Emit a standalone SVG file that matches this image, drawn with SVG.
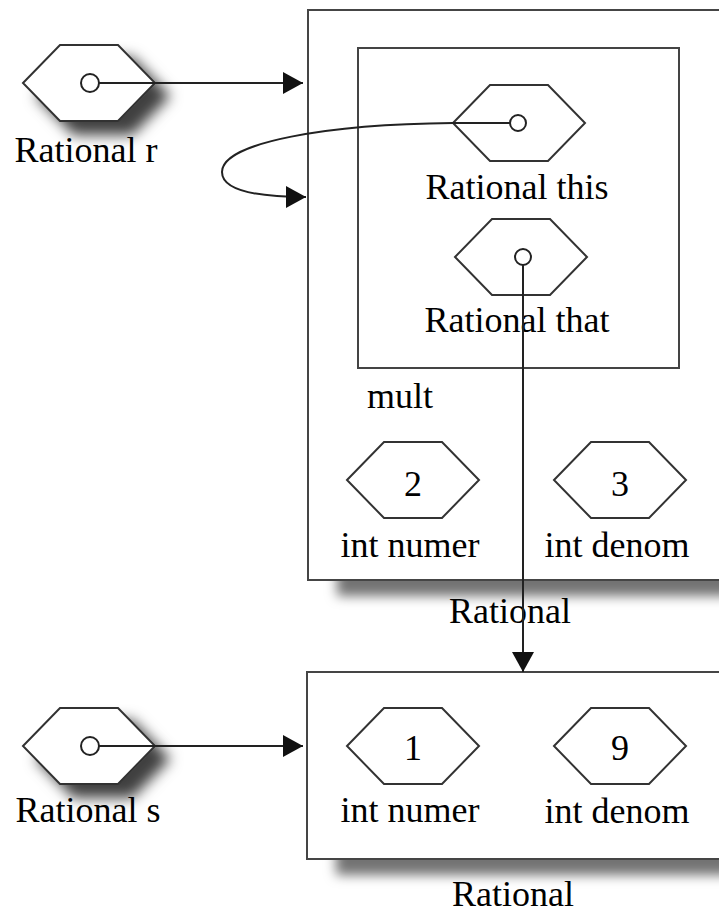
<svg xmlns="http://www.w3.org/2000/svg" width="719" height="913" viewBox="0 0 719 913">
<style>
.box{fill:#fff;stroke:#444;stroke-width:2}
.hex{fill:#fff;stroke:#333;stroke-width:2}
.dot{fill:#fff;stroke:#222;stroke-width:2}
.con{fill:none;stroke:#222;stroke-width:2}
</style>
<defs>
<filter id="shHex" x="-40%" y="-40%" width="200%" height="200%">
<feGaussianBlur in="SourceAlpha" stdDeviation="7"/>
<feOffset dx="14" dy="13" result="b"/>
<feFlood flood-color="#000" flood-opacity="0.75"/>
<feComposite in2="b" operator="in"/>
<feMerge><feMergeNode/><feMergeNode in="SourceGraphic"/></feMerge>
</filter>
<filter id="shBox" x="-10%" y="-10%" width="130%" height="130%">
<feGaussianBlur in="SourceAlpha" stdDeviation="6"/>
<feOffset dx="30" dy="15" result="b"/>
<feFlood flood-color="#000" flood-opacity="0.55"/>
<feComposite in2="b" operator="in"/>
<feMerge><feMergeNode/><feMergeNode in="SourceGraphic"/></feMerge>
</filter>
<marker id="ah" markerUnits="userSpaceOnUse" markerWidth="22" markerHeight="24" refX="20" refY="11" orient="auto">
<path d="M0,0 L20,11 L0,22 z" fill="#111"/>
</marker>
</defs>

<g id="rational-top">
<rect class="box" x="308" y="10" width="440" height="570" filter="url(#shBox)"/>
<text x="510" y="623" font-family="Liberation Serif" font-size="36" text-anchor="middle">Rational</text>
</g>
<g id="mult">
<rect class="box" x="358" y="48" width="321" height="320"/>
<text x="400" y="408" font-family="Liberation Serif" font-size="36" text-anchor="middle">mult</text>
</g>
<g id="this">
<polygon class="hex" points="453,123 490,85 548,85 585,123 548,161 490,161"/>
<circle class="dot" cx="518" cy="123" r="8"/>
<text x="517" y="199" font-family="Liberation Serif" font-size="36" text-anchor="middle">Rational this</text>
</g>
<g id="that">
<polygon class="hex" points="455,257 492,219 550,219 587,257 550,295 492,295"/>
<circle class="dot" cx="523" cy="257" r="8"/>
<text x="517" y="332" font-family="Liberation Serif" font-size="36" text-anchor="middle">Rational that</text>
</g>
<g id="numer-top">
<polygon class="hex" points="347,480 384,442 442,442 479,480 442,518 384,518"/>
<text x="413" y="496" font-family="Liberation Serif" font-size="36" text-anchor="middle">2</text>
<text x="410" y="557" font-family="Liberation Serif" font-size="36" text-anchor="middle">int numer</text>
</g>
<g id="denom-top">
<polygon class="hex" points="554,480 591,442 649,442 686,480 649,518 591,518"/>
<text x="620" y="496" font-family="Liberation Serif" font-size="36" text-anchor="middle">3</text>
<text x="617" y="557" font-family="Liberation Serif" font-size="36" text-anchor="middle">int denom</text>
</g>

<g id="rational-bottom">
<rect class="box" x="307" y="672" width="440" height="187" filter="url(#shBox)"/>
<text x="513" y="906" font-family="Liberation Serif" font-size="36" text-anchor="middle">Rational</text>
</g>
<g id="numer-bottom">
<polygon class="hex" points="347,746 384,708 442,708 479,746 442,784 384,784"/>
<text x="413" y="760" font-family="Liberation Serif" font-size="36" text-anchor="middle">1</text>
<text x="410" y="822" font-family="Liberation Serif" font-size="36" text-anchor="middle">int numer</text>
</g>
<g id="denom-bottom">
<polygon class="hex" points="554,746 591,708 649,708 686,746 649,784 591,784"/>
<text x="620" y="760" font-family="Liberation Serif" font-size="36" text-anchor="middle">9</text>
<text x="617" y="823" font-family="Liberation Serif" font-size="36" text-anchor="middle">int denom</text>
</g>

<g id="r">
<polygon class="hex" points="23,83 60,45 118,45 155,83 118,121 60,121" filter="url(#shHex)"/>
<circle class="dot" cx="90" cy="83" r="9"/>
<text x="86" y="162" font-family="Liberation Serif" font-size="36" text-anchor="middle">Rational r</text>
</g>
<g id="s">
<polygon class="hex" points="23,746 60,708 118,708 155,746 118,784 60,784" filter="url(#shHex)"/>
<circle class="dot" cx="90" cy="746" r="9"/>
<text x="88" y="822" font-family="Liberation Serif" font-size="36" text-anchor="middle">Rational s</text>
</g>

<g id="connectors">
<path class="con" d="M99,83 L303,83" marker-end="url(#ah)"/>
<path class="con" d="M510,123 L453,123 C330,124 222,142 222,172 C222,192 262,197 306,197" marker-end="url(#ah)"/>
<path class="con" d="M523,265 L523,672" marker-end="url(#ah)"/>
<path class="con" d="M99,746 L303,746" marker-end="url(#ah)"/>
</g>
</svg>
